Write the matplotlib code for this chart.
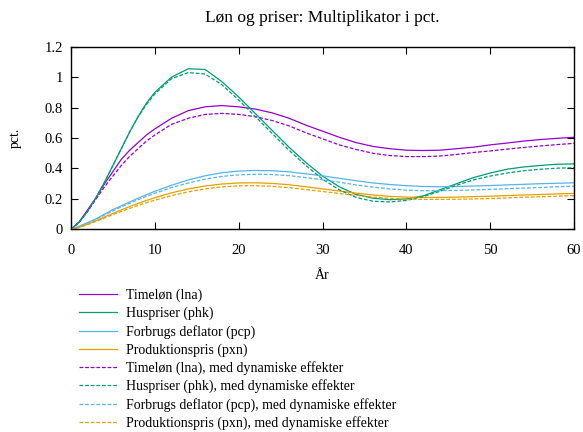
import matplotlib
matplotlib.use("Agg")
import matplotlib.pyplot as plt
import numpy as np

plt.rcParams['font.family'] = ['Liberation Serif', 'DejaVu Serif']
plt.rcParams['font.size'] = 10

# years after the shock
aar = [0, 1, 2, 3, 4, 5, 6, 7, 8, 9, 10, 12, 14, 16, 18, 20, 22, 24, 26, 28,
       30, 32, 34, 36, 38, 40, 42, 44, 46, 48, 50, 52, 54, 56, 58, 60]

# multipliers in pct.
lna = [0, 0.05, 0.13, 0.21, 0.30, 0.38, 0.46, 0.52, 0.57, 0.62, 0.66, 0.73, 0.78, 0.805, 0.813, 0.805, 0.79, 0.765,
       0.73, 0.685, 0.645, 0.605, 0.57, 0.545, 0.53, 0.52, 0.518, 0.52, 0.53, 0.54, 0.555, 0.567, 0.58, 0.59, 0.598, 0.605]
phk = [0, 0.05, 0.12, 0.21, 0.31, 0.42, 0.53, 0.64, 0.74, 0.83, 0.90, 1.00, 1.055, 1.05, 0.97, 0.87, 0.76, 0.65,
       0.54, 0.44, 0.35, 0.28, 0.23, 0.205, 0.195, 0.20, 0.22, 0.26, 0.30, 0.34, 0.37, 0.395, 0.41, 0.42, 0.428, 0.43]
pcp = [0, 0.02, 0.045, 0.07, 0.10, 0.13, 0.155, 0.18, 0.205, 0.228, 0.25, 0.29, 0.325, 0.352, 0.372, 0.383, 0.387, 0.385,
       0.378, 0.365, 0.352, 0.335, 0.32, 0.305, 0.295, 0.287, 0.282, 0.28, 0.282, 0.285, 0.288, 0.292, 0.296, 0.30, 0.303, 0.306]
pxn = [0, 0.015, 0.035, 0.058, 0.082, 0.105, 0.128, 0.15, 0.17, 0.19, 0.208, 0.24, 0.266, 0.285, 0.298, 0.305, 0.306, 0.302,
       0.293, 0.28, 0.266, 0.252, 0.238, 0.226, 0.217, 0.212, 0.21, 0.21, 0.212, 0.215, 0.218, 0.222, 0.226, 0.229, 0.233, 0.236]

# same, with dynamic effects
lna_dyn = [0, 0.05, 0.12, 0.20, 0.28, 0.35, 0.42, 0.48, 0.53, 0.58, 0.62, 0.69, 0.73, 0.755, 0.762, 0.755, 0.74, 0.715,
           0.68, 0.635, 0.595, 0.555, 0.525, 0.50, 0.485, 0.478, 0.478, 0.482, 0.492, 0.505, 0.515, 0.527, 0.538, 0.548, 0.557, 0.565]
phk_dyn = [0, 0.05, 0.12, 0.21, 0.31, 0.42, 0.53, 0.64, 0.74, 0.82, 0.89, 0.99, 1.03, 1.02, 0.95, 0.85, 0.74, 0.63,
           0.52, 0.42, 0.33, 0.26, 0.21, 0.185, 0.18, 0.19, 0.215, 0.25, 0.29, 0.325, 0.35, 0.37, 0.385, 0.395, 0.402, 0.405]
pcp_dyn = [0, 0.02, 0.043, 0.067, 0.095, 0.122, 0.148, 0.172, 0.195, 0.217, 0.237, 0.275, 0.305, 0.33, 0.348, 0.358, 0.362, 0.36,
           0.353, 0.34, 0.326, 0.31, 0.292, 0.278, 0.266, 0.258, 0.254, 0.254, 0.256, 0.259, 0.263, 0.267, 0.271, 0.275, 0.28, 0.284]
pxn_dyn = [0, 0.013, 0.032, 0.053, 0.075, 0.097, 0.118, 0.138, 0.157, 0.175, 0.192, 0.222, 0.247, 0.266, 0.279, 0.286, 0.287, 0.283,
           0.274, 0.262, 0.249, 0.236, 0.223, 0.212, 0.204, 0.199, 0.197, 0.197, 0.198, 0.20, 0.203, 0.207, 0.211, 0.214, 0.218, 0.222]

navne = ['Timeløn (lna)', 'Huspriser (phk)', 'Forbrugs deflator (pcp)', 'Produktionspris (pxn)']
farver = ['#9400D3', '#009E73', '#56B4E9', '#E69F00']

fig = plt.figure(figsize=(5.83, 4.32), dpi=100)
ax = fig.add_axes([0.1218, 0.469, 0.8628, 0.423])

for serie, navn, farve in zip([lna, phk, pcp, pxn], navne, farver):
    ax.plot(aar, serie, color=farve, lw=0.9, label=navn)
for serie, navn, farve in zip([lna_dyn, phk_dyn, pcp_dyn, pxn_dyn], navne, farver):
    ax.plot(aar, serie, color=farve, lw=0.9, ls=(0, (3, 1.5)),
            label=navn + ', med dynamiske effekter')

ax.set_xlim(0, 60)
ax.set_ylim(0, 1.2)
ax.set_xticks(np.arange(0, 61, 10))
ax.set_yticks(np.arange(0, 1.21, 0.2))
ax.yaxis.set_major_formatter(matplotlib.ticker.FormatStrFormatter('%g'))
ax.tick_params(direction='in', top=True, right=True, length=5, width=0.8, labelsize=10.5)
ax.tick_params(axis='x', pad=10.5)
ax.tick_params(axis='y', pad=6)
for s in ax.spines.values():
    s.set_linewidth(1.0)

ax.set_title('Løn og priser: Multiplikator i pct.', fontsize=12.5, pad=18)
ax.set_xlabel('År', labelpad=9)
ax.set_ylabel('pct.', labelpad=16)

h, l = ax.get_legend_handles_labels()
fig.legend(h, l, loc='upper left', bbox_to_anchor=(0.126, 0.344), frameon=False,
           handlelength=2.75, handletextpad=0.65, labelspacing=0.32, borderaxespad=0)

fig.savefig('out.png', dpi=100)
